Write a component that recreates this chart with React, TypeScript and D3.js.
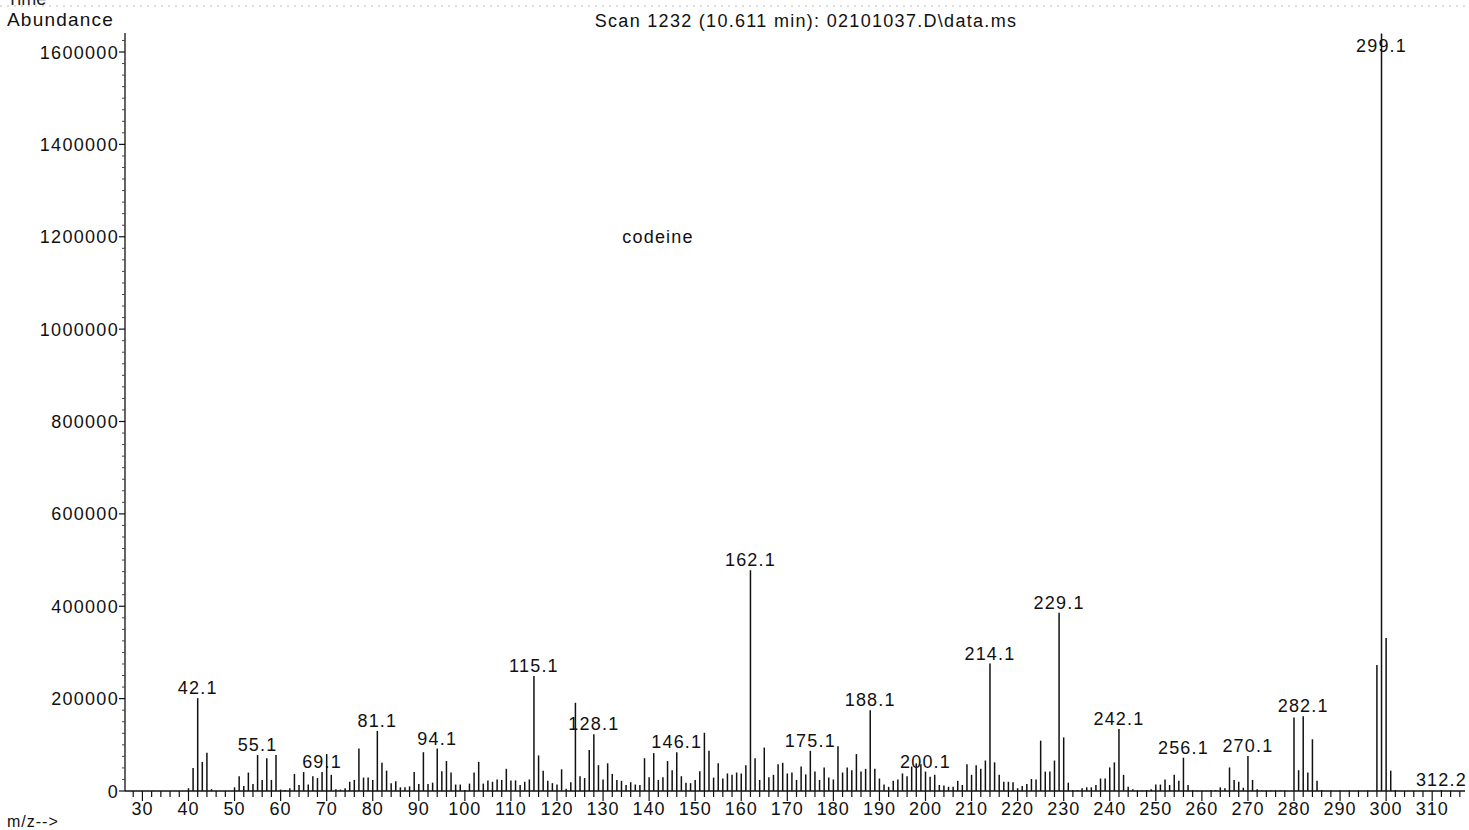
import React from "react";
import * as d3 from "d3";

const mzValues: number[] = [
  40, 41, 42, 43, 44, 45, 50, 51, 52, 53, 54, 55, 56, 57, 58, 59, 60, 61, 62, 63, 64, 65, 66, 67, 68, 69,
  70, 71, 72, 73, 74, 75, 76, 77, 78, 79, 80, 81, 82, 83, 84, 85, 86, 87, 88, 89, 90, 91, 92, 93, 94, 95,
  96, 97, 98, 99, 100, 101, 102, 103, 104, 105, 106, 107, 108, 109, 110, 111, 112, 113, 114, 115, 116, 117,
  118, 119, 120, 121, 122, 123, 124, 125, 126, 127, 128, 129, 130, 131, 132, 133, 134, 135, 136, 137, 138,
  139, 140, 141, 142, 143, 144, 145, 146, 147, 148, 149, 150, 151, 152, 153, 154, 155, 156, 157, 158, 159,
  160, 161, 162, 163, 164, 165, 166, 167, 168, 169, 170, 171, 172, 173, 174, 175, 176, 177, 178, 179, 180,
  181, 182, 183, 184, 185, 186, 187, 188, 189, 190, 191, 192, 193, 194, 195, 196, 197, 198, 199, 200, 201,
  202, 203, 204, 205, 206, 207, 208, 209, 210, 211, 212, 213, 214, 215, 216, 217, 218, 219, 220, 221, 222,
  223, 224, 225, 226, 227, 228, 229, 230, 231, 232, 233, 234, 235, 236, 237, 238, 239, 240, 241, 242, 243,
  244, 245, 246, 247, 248, 249, 250, 251, 252, 253, 254, 255, 256, 257, 258, 259, 260, 261, 262, 263, 264,
  265, 266, 267, 268, 269, 270, 271, 272, 273, 274, 275, 276, 277, 278, 280, 281, 282, 283, 284, 285, 286,
  288, 290, 292, 294, 296, 298, 299, 300, 301, 302, 312,
];

const abundances: number[] = [
  6000, 50000, 201000, 63000, 83000, 4000, 8000, 32000, 11000, 40000, 15000, 78000, 24000, 71000, 24000, 78000, 3000, 2000, 6000, 37000, 13000, 41000, 14000, 32000, 28000, 41000,
  80000, 35000, 4000, 3000, 6000, 20000, 24000, 92000, 29000, 29000, 24000, 130000, 61000, 44000, 17000, 21000, 8000, 8000, 10000, 41000, 15000, 84000, 15000, 18000, 92000, 43000,
  65000, 40000, 14000, 14000, 2000, 16000, 40000, 63000, 16000, 23000, 20000, 25000, 24000, 48000, 23000, 23000, 13000, 20000, 25000, 249000, 77000, 44000,
  22000, 17000, 14000, 47000, 5000, 19000, 191000, 32000, 28000, 89000, 123000, 56000, 25000, 60000, 37000, 24000, 22000, 13000, 19000, 14000, 13000,
  71000, 30000, 82000, 24000, 30000, 65000, 45000, 84000, 32000, 18000, 17000, 24000, 43000, 126000, 87000, 29000, 60000, 27000, 38000, 35000, 40000,
  38000, 56000, 478000, 71000, 24000, 94000, 30000, 35000, 58000, 61000, 38000, 40000, 24000, 53000, 36000, 87000, 42000, 24000, 51000, 29000, 25000,
  97000, 40000, 51000, 45000, 80000, 42000, 48000, 175000, 48000, 27000, 14000, 9000, 22000, 25000, 38000, 32000, 53000, 60000, 58000, 42000, 31000,
  35000, 13000, 12000, 9000, 9000, 22000, 13000, 58000, 35000, 56000, 48000, 66000, 276000, 62000, 35000, 20000, 20000, 19000, 6000, 11000, 15000,
  26000, 25000, 109000, 42000, 42000, 66000, 386000, 116000, 18000, 2000, 2000, 6000, 8000, 8000, 13000, 27000, 27000, 51000, 62000, 134000, 35000,
  9000, 4000, 1000, 1000, 2000, 4000, 14000, 14000, 25000, 13000, 35000, 22000, 72000, 13000, 2000, 1000, 500, 500, 2000, 2000, 8000,
  6000, 51000, 24000, 20000, 7000, 76000, 24000, 4000, 1000, 1000, 1000, 1000, 1000, 1000, 159000, 45000, 162000, 40000, 112000, 22000, 2000,
  1000, 1000, 1000, 1000, 1000, 273000, 1640000, 331000, 44000, 2000, 2000,
];

const peakLabels: string[] = [
  "42.1", "55.1", "69.1", "81.1", "94.1", "115.1", "128.1", "146.1", "162.1", "175.1",
  "188.1", "200.1", "214.1", "229.1", "242.1", "256.1", "270.1", "282.1", "299.1", "312.2",
];

const yTickValues: number[] = [0, 200000, 400000, 600000, 800000, 1000000, 1200000, 1400000, 1600000];
const xTickValues: number[] = [30, 40, 50, 60, 70, 80, 90, 100, 110, 120, 130, 140, 150, 160, 170, 180, 190, 200, 210, 220, 230, 240, 250, 260, 270, 280, 290, 300, 310];

const titleText = "Scan 1232 (10.611 min): 02101037.D\\data.ms";
const annotationText = "codeine";

const W = 1469;
const H = 830;
const FONT = "'Liberation Sans', Arial, sans-serif";

export default function App() {
  const x = d3.scaleLinear().domain([42, 280]).range([197.7, 1294]);
  const y = d3.scaleLinear().domain([0, 1600000]).range([791, 52]);
  const axisLeft = 125;
  const axisRight = 1465;
  const axisTop = 33;
  const baseY = y(0);

  const minorX = d3.range(28, 318, 2).filter((v) => v % 10 !== 0);
  const minorY = d3.range(0, 1650000, 25000).filter((v) => v % 200000 !== 0);

  const bars = mzValues.map((m, i) => ({ m, v: abundances[i] }));
  const labels = peakLabels.map((s) => {
    const mz = Math.round(parseFloat(s));
    const idx = mzValues.indexOf(mz);
    const v = idx >= 0 ? abundances[idx] : 0;
    return { s, x: x(mz), yb: Math.max(y(v) - 4, 52) };
  });

  return (
    <svg
      width={W}
      height={H}
      style={{ position: "absolute", left: 0, top: 0, background: "#fff" }}
      fontFamily={FONT}
    >
      <rect x={0} y={0} width={W} height={H} fill="#fff" />
      <text x={7} y={5} fontSize={18} fill="#222">Time</text>
      <line x1={0} x2={W} y1={6} y2={6} stroke="#bbb" strokeWidth={1} strokeDasharray="2,5" />
      <text x={7} y={26} fontSize={19} letterSpacing={1.2} fill="#111">Abundance</text>
      <text x={806} y={27} fontSize={18} letterSpacing={1.3} textAnchor="middle" fill="#111">
        {titleText}
      </text>
      <text x={658} y={243} fontSize={18} letterSpacing={1.2} textAnchor="middle" fill="#111">
        {annotationText}
      </text>
      <text x={7} y={827} fontSize={16} letterSpacing={1} fill="#111">m/z--&gt;</text>

      {/* axes */}
      <line x1={axisLeft} x2={axisLeft} y1={axisTop} y2={baseY} stroke="#111" strokeWidth={1.3} />
      <line x1={axisLeft} x2={axisRight} y1={baseY} y2={baseY} stroke="#111" strokeWidth={1.3} />

      {minorY.map((v) => (
        <line key={"my" + v} x1={axisLeft - 3} x2={axisLeft} y1={y(v)} y2={y(v)} stroke="#444" strokeWidth={1} />
      ))}
      {yTickValues.map((v) => (
        <g key={"y" + v}>
          <line x1={axisLeft - 6} x2={axisLeft} y1={y(v)} y2={y(v)} stroke="#111" strokeWidth={1.2} />
          <text x={119} y={y(v) + 6.5} fontSize={18} letterSpacing={1.3} textAnchor="end" fill="#111">
            {v}
          </text>
        </g>
      ))}

      {minorX.map((v) => (
        <line key={"mx" + v} x1={x(v)} x2={x(v)} y1={baseY} y2={baseY + 6} stroke="#111" strokeWidth={1.2} />
      ))}
      {xTickValues.map((v) => (
        <g key={"x" + v}>
          <line x1={x(v)} x2={x(v)} y1={baseY} y2={baseY + 10} stroke="#111" strokeWidth={1.2} />
          <text x={x(v)} y={815} fontSize={18} letterSpacing={1} textAnchor="middle" fill="#111">
            {v}
          </text>
        </g>
      ))}

      {/* spectrum bars */}
      {bars.map((b) => (
        <line
          key={"b" + b.m}
          x1={x(b.m)}
          x2={x(b.m)}
          y1={baseY}
          y2={Math.max(y(b.v), axisTop - 1)}
          stroke="#111"
          strokeWidth={1.5}
        />
      ))}

      {labels.map((l) => (
        <text key={"l" + l.s} x={l.x} y={l.yb} fontSize={18} letterSpacing={1.2} textAnchor="middle" fill="#111">
          {l.s}
        </text>
      ))}
    </svg>
  );
}
